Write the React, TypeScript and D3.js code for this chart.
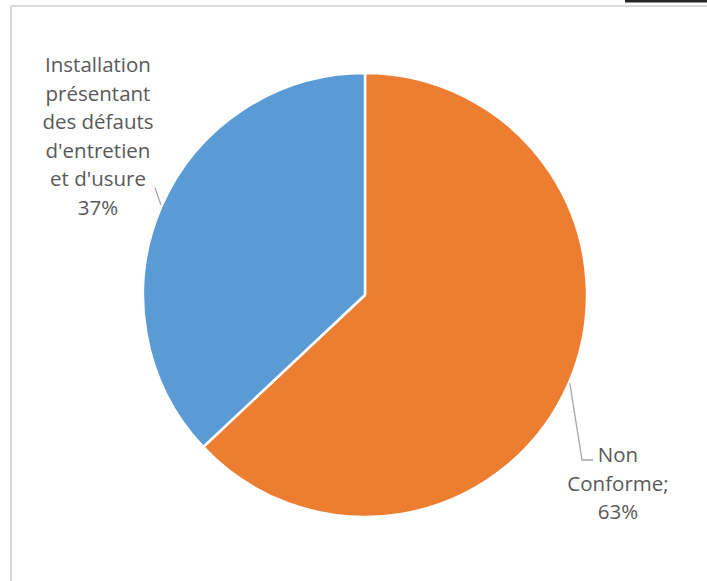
import React from "react";
import * as d3 from "d3";

const categories = ["Non Conforme", "Installation présentant des défauts d'entretien et d'usure"];
const values = [63, 37];
const colors = ["#ED7D31", "#5B9BD5"];
const labelLines = [
  ["Non", "Conforme;", "63%"],
  ["Installation", "présentant", "des défauts", "d'entretien", "et d'usure", "37%"],
];

const W = 707;
const H = 581;
const cx = 365;
const cy = 295;
const R = 222;

export default function App() {
  const pie = d3.pie<number>().sort(null).value((d) => d);
  const arcs = pie(values);
  const arc = d3.arc<d3.PieArcDatum<number>>().innerRadius(0).outerRadius(R);

  const onArc = (a: number, r = R) => [cx + r * Math.sin(a), cy - r * Math.cos(a)];
  const deg = (d: number) => (d * Math.PI) / 180;

  // label layouts
  const rightStart = onArc(deg(113.3), R + 1);
  const rightLeader = [rightStart, [582, 460], [593, 460]];
  const leftStart = onArc(deg(293.8), R + 1);
  const leftLeader = [leftStart, [155, 188]];
  const line = d3.line();

  const fontFamily = "'Open Sans', sans-serif";
  const fs = 20.5;
  const lh = 28.6;

  return (
    <div style={{ position: "absolute", left: 0, top: 0 }}>
      <svg width={W} height={H} style={{ display: "block" }}>
        <rect x={0} y={0} width={W} height={H} fill="#fff" />
        <rect x={625} y={0} width={82} height={2.5} fill="#262626" />
        <line x1={11} y1={6} x2={W} y2={6} stroke="#d9d9d9" strokeWidth={2} />
        <line x1={11} y1={6} x2={11} y2={H} stroke="#d9d9d9" strokeWidth={2} />
        <g transform={`translate(${cx},${cy})`}>
          {arcs.map((a, i) => (
            <path key={categories[i]} d={arc(a) || ""} fill={colors[i]} stroke="#fff" strokeWidth={2.5} strokeLinejoin="round" />
          ))}
        </g>
        <path d={line(rightLeader as [number, number][]) || ""} fill="none" stroke="#a6a6a6" strokeWidth={1.3} />
        <path d={line(leftLeader as [number, number][]) || ""} fill="none" stroke="#a6a6a6" strokeWidth={1.3} />
        <text fontFamily={fontFamily} fontSize={fs} fill="#595959" textAnchor="middle">
          {labelLines[0].map((t, i) => (
            <tspan key={t} x={618} y={462 + i * lh}>{t}</tspan>
          ))}
        </text>
        <text fontFamily={fontFamily} fontSize={fs} fill="#595959" textAnchor="middle">
          {labelLines[1].map((t, i) => (
            <tspan key={t} x={98} y={72 + i * lh}>{t}</tspan>
          ))}
        </text>
      </svg>
    </div>
  );
}
